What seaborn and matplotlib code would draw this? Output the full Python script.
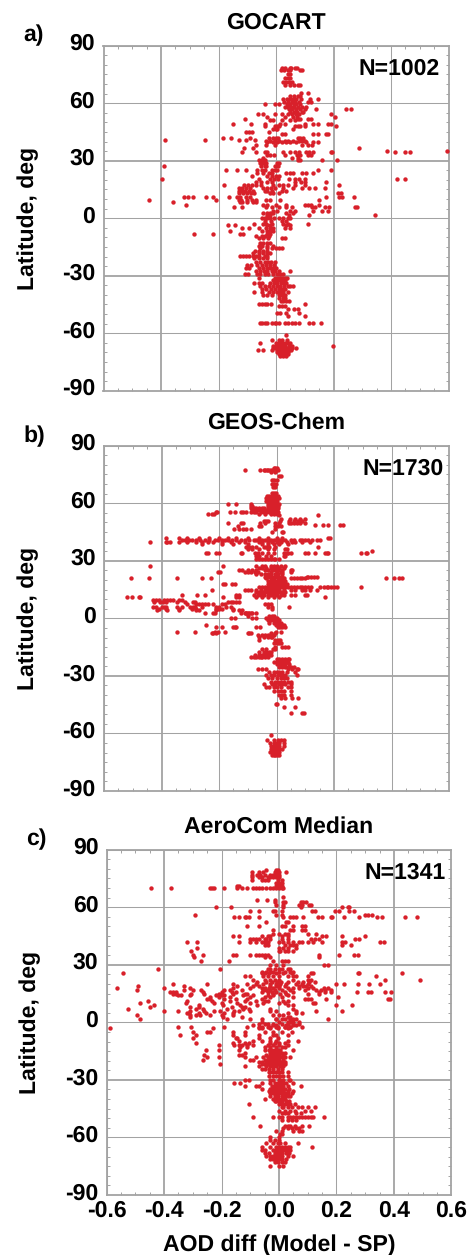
import pandas as pd
import matplotlib.pyplot as plt
import seaborn as sns
from matplotlib.ticker import MultipleLocator
from matplotlib.transforms import ScaledTranslation

# (latitude, AOD diffs at that latitude)
gocart_rows = [
    (78.5, [.02, .032, .048, .053, .066, .074]), (77.5, [.016, .027, .04, .05, .084, .09]),
    (75, [.04, .047]), (73, [.03, .04, .05]), (71, [.025, .034, .045, .055]), (69.5, [.033, .05, .064, .075, .082]),
    (65.5, [.088, .113]), (63.5, [.05, .062, .075, .083]), (62, [.025, .037, .05, .059, .07, .087, .117, .146]),
    (60.7, [.027, .043, .056, .067, .08, .12, .113]), (59.5, [-.04, -.005, .012, .037, .048, .062, .07, .085]),
    (58, [.03, .042, .053, .064, .076, .092, .103]), (57, [.044, .057, .07, .083, .1, .14, .245, .262]),
    (55.5, [.05, .062, .072, .09, .095]), (54.5, [-.062, -.045, -.005, .022, .04, .056, .07, .08, .19]),
    (53, [-.03, .03, .06, .072, .205]), (52, [-.107, .076, .085, .11, .12]), (51, [-.02, -.012, .02, .05, .066]),
    (49, [-.15, -.088, -.04, .015, .03, .1, .13, .145, .18, .19]), (48, [-.04, -.005, .004, .012, .065, .075, .085, .1, .21]),
    (46.5, [-.01, 0, .005, .06]), (45.2, [-.105, -.095, -.085, -.025]), (43.7, [.02, .03, .13, .147, .175, .18]),
    (41, [-.385, -.248, -.072, -.13, -.105]), (41.6, [-.185, -.158, -.09]),
    (42, [-.025, -.012, 0, .008, .075, .085, .095]), (40.5, [-.035, -.02, -.005, .012, .03, .042, .06, .08, .09, .1]),
    (39.5, [-.03, -.01, .005, .02, .035, .05, .07, .105, .13, .145]), (38, [-.07, -.035, -.005, .09, .11, .125]),
    (36.5, [-.11, -.08, .29]), (35.2, [.387, .596]), (34.5, [.413, .45, .467]),
    (34.3, [-.12, -.07, -.04, -.03, .025, .05, .065, .08, .105, .115, .13, .19, .195]),
    (33, [-.03, -.02, -.008, .03, .072, .082, .11, .12]), (31.5, [-.045, .055, .077]),
    (30.2, [-.06, -.048, -.04, .075, .082, .16, .213]), (28.7, [-.057, -.045, -.035, .005, .012]),
    (27, [-.39, -.052, -.04, -.034, -.005, .007]), (25.3, [-.175, -.135, -.105, -.065, -.05, -.038, -.015, -.004, .005, .145, .193]),
    (23.8, [-.067, -.045, -.025, -.013, .035, .05, .06, .09, .105, .13]),
    (22, [-.085, -.03, -.015, 0, .01]), (20.5, [-.395, -.06, -.02, -.008, .007, .045, .065, .08, .1, .42, .45]),
    (19, [-.07, -.053, -.03, -.015, .066, .088, .1, .173]),
    (17.4, [-.18, -.113, -.098, -.085, -.07, -.053, -.01, .012, .025, .04, .065, .1, .22]),
    (16, [-.13, -.12, -.105, -.09, -.045, -.032, -.018, -.005, .025, .06, .09, .115, .135, .17]),
    (14.4, [-.13, -.12, -.107, -.095, -.08, -.04, -.03, -.015, .02, .035]),
    (13, [-.128, -.115, -.1, -.088, -.075, -.02, -.01, .01, .215, .225]),
    (11, [-.32, -.306, -.29, -.245, -.22, -.165, -.135, -.125, -.105, -.09, .175, .22, .23, .27]),
    (9.7, [-.443, -.21, -.13, -.122, -.1, -.085, -.07, -.035, -.02, .015, .15]), (8.5, [-.358, -.125, -.118, -.1, -.08, -.07]),
    (7, [-.312, -.045, -.03, 0, .035, .1, .11, .12, .15]),
    (5.7, [-.145, -.12, -.035, -.015, .01, .036, .055, .125, .137, .17, .185, .274, .28]),
    (4, [-.01, .002, .05, .065, .13, .16, .18]), (2.5, [-.045, -.033, -.02, -.01, .035, .06]),
    (1.5, [-.03, -.02, .115, .345, .045]), (0, [-.05, -.04, -.03, -.02, -.008, .012, .025, .04, .05]),
    (-1.5, [-.037, -.018, .02, .035]), (-2.8, [-.075, -.045, -.035, -.015, .025, .04, .11]), (-3.7, [-.167, -.144, -.03, -.02, .035, .05]),
    (-5, [-.12, -.095, -.06, -.035, -.02, -.01, .03, .048]), (-6.5, [-.16, -.05, -.033, -.022, -.012]),
    (-8, [-.285, -.218, -.125, -.115, -.032, -.02]), (-9.5, [-.07, -.05, -.04, -.025]),
    (-10.5, [-.06, -.044, -.028, .02, .03]), (-13, [-.055, -.045, -.03, -.02]), (-14.5, [-.06, -.048, -.03, -.012]),
    (-15.7, [-.055, -.03, -.015, 0, .012, .02]), (-17, [-.072, -.058, -.045, -.03]), (-18, [-.08, -.06, -.045, -.032, -.02]),
    (-19.7, [-.125, -.115, -.105, -.095, -.08, -.07, -.06, -.04, -.03]), (-21, [-.075, -.058, -.045, -.032]),
    (-23, [-.07, -.055, -.04, -.028, -.017, -.005]), (-24.5, [-.1, -.088, -.065, -.05, -.035, -.02, -.008]),
    (-26, [-.105, -.095, -.06, -.045, -.033, -.02, -.01, 0]), (-27.5, [-.07, -.055, -.042, -.03, -.015, -.003, .012, .048]),
    (-29, [-.108, -.097, -.065, -.055, -.04, -.028, -.012, .002, .015, .025]),
    (-31, [-.06, -.003, .006, .013, .022, .03, .038]), (-32.5, [-.01, 0, .01, .02, .03]),
    (-34, [-.075, -.06, -.048, -.02, -.007, .005, .017, .027, .035]), (-35.2, [-.055, -.04, -.026, -.012, .003, .015, .028, .04, .05, .06]),
    (-37, [-.05, -.035, -.018, -.005, .01, .02, .033]), (-38.5, [-.077, -.047, -.025, -.01, .005, .015, .024, .04]),
    (-40, [-.045, -.03, -.015, .012, .022, .03]), (-41.5, [.012, .025, .03]), (-43, [.017, .026, .035, .045]),
    (-44.7, [-.06, -.05, -.04, -.03, -.018, .1]), (-46, [.01, .02, .03]), (-47.5, [.04, .062, .075]),
    (-49.5, [.005, .015, .035, .08]), (-51, [.04, .1]),
    (-54.5, [-.055, -.05, -.04, -.03, -.015, -.005, 0, .01, .03, .04, .055, .065, .08, .115, .13, .155]),
    (-61, [.035]), (-63.5, [-.015, .012, .022, .038]), (-65, [-.055, 0, .01, .02, .03, .04, .048]),
    (-66.5, [.198, -.01, 0, .011, .022, .033, .045, .055]), (-67.5, [-.012, 0, .01, .02, .03, .04, .055, .07]),
    (-69, [-.063, -.045, -.015, .005, .015, .025, .035, .045, .052]), (-70, [.005, .012, .02, .03, .04]),
    (-71, [.01, .02, .03, .04]), (-72, [.015, .025, .035]),
]

geos_rows = [
    (78.5, [-.01, -.005, .002]), (77.5, [-.11, -.057, -.045, -.04, -.034, -.028, -.022, -.016, -.01, -.003, .006]),
    (76.5, [-.018, -.005]), (74, [.01, .016]), (72, [-.015, -.008, 0]), (70, [-.016, -.01, -.003]), (68.5, [-.012, -.005]),
    (65.5, [-.015, -.008, -.002]), (64, [-.032, -.025, -.015, -.008, -.002, .006]),
    (62.5, [-.036, -.03, -.022, -.015, -.007, 0, .008]), (61, [-.035, -.028, -.02, -.012, -.005, .003]),
    (59.7, [-.167, -.14, -.09, -.03, -.018, -.01, 0, .008]), (58.5, [-.09, -.085, -.03, -.022, -.014, -.005, .005]),
    (57.4, [-.09, -.08, -.07, -.062, -.05, -.042, -.03, -.02, -.01, 0, .006]),
    (56.5, [-.085, -.075, -.068, -.058, -.05, -.04, -.03, -.02, -.01, 0]),
    (55.5, [-.21, -.207, -.163, -.146, -.125, -.118, -.105, -.09, -.08, -.07, -.055, -.045, -.035, -.025, -.015, -.005, .005]),
    (54.6, [-.24, -.225, -.218, -.06, -.04, -.02, -.008, .002]), (54, [.146, .01]),
    (52, [.048, .065, .082, .1, .015]), (50.5, [-.045, -.035, -.03, .013, .042, .06, .075, .088]),
    (49.6, [-.17, -.122, -.118, -.058, -.04, -.005, .007, .042, .05, .06, .07, .08, .1]),
    (48.7, [.135, .163, .18, .22, .23]), (48, [-.135, -.06, -.055, -.005, .005, .015]),
    (46.4, [-.148, -.132, -.115, -.105, -.09, -.005]), (45, [-.016, .018, .024]),
    (41.8, [-.385, -.34, -.31, -.27, -.235, -.2, -.17, -.14, -.1, -.06, -.03, 0, .02, .18, .187]),
    (41, [-.33, -.32, -.305, -.295, -.28, -.265, -.25, -.235, -.215, -.205, -.19, -.18, -.17, -.155, -.14, -.125, -.11, -.095, -.08, -.07, -.06, -.05, -.04, -.03, -.02, -.01, 0, .01, .02, .03, .05, .06, .08, .09, .1, .11, .125, .14, .15]),
    (40, [-.44, -.385, -.38, -.37, -.34, -.31, -.28, -.26, -.24, -.22, -.19, -.16, -.13, -.11, -.06, -.05, -.03, -.015, 0, .015, .035, .055, .065, .09, .115]),
    (38.8, [-.26, -.19, -.15, -.1, -.05, -.03, -.01, .01, .04]), (37, [-.105, -.095, -.085, -.07, -.045, -.035, -.025, -.005, .146]),
    (36, [-.1, -.085, -.06, -.03, -.01, .03, .035]),
    (34, [-.245, -.24, -.21, -.2, -.125, -.12, -.075, -.065, -.05, -.03, -.01, .025, .035, .04, .05, .1, .11, .135, .17, .175, .18, .295, .31, .315]),
    (35, [.332]), (32.5, [-.07, -.06, -.035, -.02, .025, .03]), (31, [-.07, -.06, -.05, -.04, -.03, -.02, -.01, -.005, .01]),
    (27.3, [-.44, -.187, -.07, -.05, -.04, -.02, -.01, 0, .015, .03]),
    (26, [-.06, -.05, -.035, -.02, -.01, 0, .01, .025]),
    (25, [-.13, -.12, -.1, -.085, -.07, -.04, -.03, -.015, -.005, .005, .02, .05, .055]),
    (24, [-.205, -.198, -.11, -.1, -.09, -.075, -.065, -.02, 0, .015, .02, .05]),
    (23, [-.07, -.055, -.04, -.03, -.02, -.005, .005, .02]), (21.8, [-.04, -.03, -.02, -.01, 0, .01, .02, .14, .105, .11, .12, .13]),
    (20.9, [-.507, -.442, -.347, -.26, -.228, -.035, -.02, -.01, .005, .015, .025, .05, .06, .07, .08, .09, .1, .38, .407, .425, .436]),
    (19.5, [-.03, -.02, -.01, 0, .01, .02, .03]), (18, [-.185, -.18, -.155, -.145, -.03, -.02, -.01, 0, .01, .02, .03, .035]),
    (16.5, [.295, -.06, -.05, -.04, -.03, -.02, -.01, 0, .01, .02, .03, .04, .05, .06, .07, .08, .09, .1, .11, .12, .15, .165, .175, .18, .19, .2, .21]),
    (15, [-.225, -.11, -.1, -.09, -.07, -.055, -.04, -.03, -.02, -.01, 0, .01, .025, .05, .065, .09, .1, .115, .14]),
    (13.5, [-.07, -.06, -.05, -.04, -.03, -.02, -.01, 0, .01, .02, .03]),
    (12, [-.33, -.277, -.248, -.14, -.13, -.08, -.065, -.055, -.045, -.03, -.02, -.01, 0, .015, .025, .05, .065, .1, .105]),
    (11, [-.52, -.503, -.48, -.475, -.185, -.14, -.13, -.07, -.05, -.03, -.01, .01, .17]),
    (9.6, [-.43, -.42, -.41, -.39, -.38, -.37, -.36, -.34, -.33]),
    (8.7, [-.425, -.405, -.395, -.385, -.345, -.32, -.29, -.285, -.17, -.16, -.15, -.14, -.13]),
    (7.5, [-.31, -.28, -.27, -.26, -.25, -.24, -.22, -.19, -.18, -.04, -.03, -.02]),
    (6, [-.43, -.42, -.4, -.39, -.385, -.345, -.33, -.3, -.29, -.285, -.26, -.21, -.2, -.175, -.16, -.03, -.015, .042]),
    (5, [-.41, -.385, -.34, -.295, -.28, -.21, -.2, -.19, -.15, -.015]), (4.4, [-.415, -.38, -.34, -.28, -.27, -.21, -.15, -.13, -.12]),
    (3, [-.11, -.105, -.095, -.085]), (2.6, [-.25, -.22, -.215, -.125, -.105, -.1, -.09, -.07]), (1, [-.025, -.015, -.01, -.1]),
    (0, [-.16, -.145, -.085, -.07, -.035, -.025, -.015, -.005, .002]), (-1, [-.03, -.02, -.01, 0, .005, .01]),
    (-2.5, [-.025, -.01, 0, .005, .015]), (-3.5, [-.245, -.003, .005, .012, .018, .025]), (-4.7, [-.212, -.19, -.15, -.145, -.14, -.07, -.058, .005, .012, .02, .028]),
    (-7, [-.347, -.283, -.215, -.205, -.18, -.002, .015]), (-7.8, [-.225, -.22, -.21, -.1, -.095, -.09, -.02, -.005]),
    (-8.5, [-.065, -.05, -.04, -.03, -.02, -.01]), (-9.5, [-.06, -.045, -.03, -.02, -.015]), (-11.5, [-.06, -.005, .005, .012]),
    (-13, [-.01, 0, .01, .015]), (-15, [-.005, .02, .03, .04]), (-16, [-.05, -.035, -.012, -.005]),
    (-17.5, [-.06, -.045, -.035, -.025, -.018]), (-19, [-.075, -.06, -.05, -.04, -.03, -.02]),
    (-20, [-.09, -.08, -.07, -.06, -.055, -.05, -.04, -.03]), (-21, [0, .01, .02, .03, .04, .045]),
    (-22.5, [-.01, 0, .01, .02, .03, .035, .04]), (-24, [0, .01, .02, .03, .045]), (-25.5, [.01, .02, .03, .04, .05, .06]),
    (-26.5, [-.065, -.05, -.035, .04, .055, .07, .075]), (-28, [-.025, -.01, 0, .01, .02, .035, .065]),
    (-29.5, [-.035, -.02, -.01, .005, .015, .02, .03, .07]), (-31, [-.03, -.015, 0, .015, .025, .035]),
    (-33, [-.02, -.005, .005, .015, .025, .04, .05]), (-34, [-.045, -.015, -.005, .01, .02, .03, .05]),
    (-36, [-.035, -.025, -.01, 0, .015, .04, .05]), (-38, [-.01, .005, .015, .025, .052]),
    (-40, [.01, .02, .025, .05]), (-41.5, [.015, .03, .055, .076]), (-44.5, [-.002, .003]), (-46, [.025, .065]),
    (-49.5, [.05, .088, .094]), (-61, [-.02]), (-63.5, [-.033, -.01, .005, .015, .025]),
    (-65, [-.022, -.01, -.005, 0, .01, .025]), (-66.5, [-.018, -.01, -.005, 0, .01, .025]),
    (-68, [-.02, -.015, -.01, -.005, 0, .01, .02]), (-69.5, [-.024, -.015, -.01, -.005, 0, .01]), (-71, [-.015, -.01, -.005, 0, .01]),
]

aero_rows = [
    (79.5, [-.045, -.01, -.005]), (78.5, [-.095, -.07, -.055, -.015, -.01, -.005, 0, .026]),
    (77, [-.095, -.075, -.065, -.05, -.03, -.02, -.01, 0]), (76, [-.095, -.07, -.06, -.04, -.03, -.02, -.01, 0]),
    (74, [-.095, -.06, -.05, -.04, -.005, .01]), (72.5, [-.01, 0, .01]), (71, [-.145, -.14, -.01, 0, .01]),
    (70, [-.447, -.375, -.24, -.235, -.225, -.19, -.145, -.13, -.11, -.09, -.08, -.07, -.06, -.045, -.03, -.02, -.01, 0, .01, .015]),
    (65.6, [.015]), (64, [-.077, -.042, -.013]), (62.5, [-.013, .015, .02, .075, .085, .095]), (61, [.07, .08, .105, .11, -.01, .015]),
    (60, [-.22, -.166, .015, .075, .22, .24, .245]), (58, [-.1, -.07, -.02, -.015, .01, .125, .115, .195, .21, .245, .26]),
    (56, [-.293, -.01, .01, .31, .325, .3]),
    (55, [-.155, -.14, -.12, -.115, -.105, -.07, .015, .04, .05, .06, .085, .135, .15, .18, .185, .225, .28, .34, .36, .44, .48]),
    (52.5, [-.045, .03, .025]), (50, [-.11, -.07, .02, .05, .08, .09, .01]), (48, [-.02, .08, .09, .04, .05]), (46, [.02, .03, -.02, 0, .1, .13]),
    (45, [-.16, -.14, -.06, -.04, -.03, .01, .03, .15, .165, .22, .3]),
    (43.5, [-.1, -.09, -.08, -.07, -.05, -.045, -.03, .01, .03, .11, .125, .14, .28, .265]),
    (42, [-.32, -.285, -.14, -.1, -.08, -.06, -.05, -.04, 0, .015, .03, .05, .07, .08, .1, .12, .15, .22, .23, .352, .365]),
    (40.5, [-.05, -.04, .02, .04, .05, .06, .22, .25]), (39, [-.285, 0, .015, .03, .06]), (37, [-.308, 0, .005, .02, .03, .05]),
    (35, [-.3, -.265, -.16, -.15, -.1, -.08, -.07, -.06, -.05, -.04, .14, .21, .26, .275]), (34, [-.295, -.05, -.03, .14]),
    (32, [-.27, -.173, -.02, .01, .02, .03]), (30, [.17, .155, -.01, .015, -.03]), (28, [-.204, -.42, -.04, -.03, -.015, 0, .01, .03, .04]),
    (26.5, [-.06, -.045, -.03, -.02, 0, .02, .04, .05]), (25.5, [-.543, -.06, -.05, -.035, -.01, .015, .045, .11, .12, .28, .275, .43]),
    (24, [-.1, -.12, -.055, -.04, -.02, 0, .03, .06, .05, .337, .1]), (22, [-.09, -.05, -.03, -.015, 0, .05, .1, .49, .37, .11]),
    (21, [-.075, -.045, -.025, -.008, .008, .03, .065, .085, .105, .125]),
    (20, [-.37, -.25, -.16, -.11, -.08, -.055, -.03, -.01, .005, .025, .06, .08, .1, .2, .225, .275, .315, .35]),
    (19, [-.49, -.33, -.145, -.09, -.07, -.03, -.01, 0, .02, .07, .085, .095, .11]),
    (18, [-.565, -.4, -.31, -.16, -.1, -.06, -.05, -.035, -.02, 0, .03, .05, .07, .1, .12, .155, .17]),
    (17, [-.495, -.33, -.3, -.27, -.19, -.17, -.13, -.055, -.045, -.03, -.015, .01, .04, .09, .13, .145, .16, .18]),
    (16, [-.38, -.37, -.36, -.265, -.2, -.165, -.15, -.06, -.04, -.025, -.01, .02, .05, .14, .16, .18, .27, .31, .32, .37, .39]),
    (15, [-.37, -.36, -.305, -.26, -.21, -.16, -.12, -.11, -.02, .005, .025, .14, .1]),
    (14, [-.35, -.34, -.31, -.22, -.2, -.19, -.125, -.09, -.04, -.02, .03]), (13, [-.24, -.21, -.17, -.1, -.05, -.03, .01, .05, .205]),
    (12, [-.25, -.24, -.19, -.15, -.11, -.06, .09, .1, .11, .165, .38, .385]), (11, [-.455, -.32, -.235, -.17, -.12, -.08, -.05, -.04, .03, .015]),
    (10, [-.485, -.325, -.225, -.2, -.145, -.1, -.055, 0, .02, .125, .12]), (9, [-.435, -.28, -.195, -.135, -.075, .03, .05, .2, .255]),
    (8, [-.45, -.31, -.28, -.165, -.13, -.12]), (7, [-.525, -.29, -.265, -.18, -.125, -.105, -.03, .05]),
    (6, [-.4, -.35, -.31, -.26, -.225, -.205, -.155, -.14, -.1, -.03, -.01, .13, .22, .06]), (5, [-.32, -.315, -.28, -.255, -.19, -.16, .06, .08, .03]),
    (4, [-.495, -.31, -.29, -.275, -.24, -.2, -.16, -.02, 0, .015]), (3, [-.31, -.195, -.13, .03, .04]),
    (2, [-.485, -.18, -.1, -.01, .01, .17, .04]), (1.5, [-.01, .02, .05, .06, -.06]), (0, [-.06, 0, .03, .05, .07, .04]),
    (-1.5, [-.09, -.02, -.01, .025, .05, .06]), (-2.5, [-.305, -.11, -.06, -.03, -.005, .02, .04, .08]),
    (-1, [-.07, -.05, -.04, -.02, .01, .03, .05, .07]), (-2.2, [-.35, -.19, -.07, -.04, -.01, .02, .04]),
    (-3.2, [-.59, -.23, -.07, -.06, -.03, -.005, .03]), (-5, [-.3, -.25, -.24, -.16, -.12, -.05, -.02, .01, .045]),
    (-6.5, [-.345, -.29, -.16, -.12, -.07, -.02, -.01, .03]), (-8, [-.3, -.15, -.145, -.07, -.03, -.005]),
    (-9.5, [-.14, -.09, -.06, -.03, -.01, .03, .065]), (-11, [-.29, -.16, -.12, -.105, -.03, -.015, 0, .02]),
    (-12, [-.21, -.155, -.14, -.13, -.11, -.09, -.04, -.02, 0, .03]), (-13, [-.135, -.11, -.05, -.03, -.01, .01, .02]),
    (-14.3, [-.255, -.21, -.14, -.05, -.035, -.025, -.015, -.005, .005, .05]), (-16, [-.12, -.03, -.02, -.01, 0, .01, .02]),
    (-17, [-.26, -.13, -.14, -.045, -.03, -.02, -.01, 0, .015]), (-18, [-.25, -.21, -.12, -.08, -.055, -.04, -.03, -.02, -.01, 0, .01, .02, .04]),
    (-19.5, [-.265, -.1, -.09, -.05, -.04, -.03, -.02, -.01, 0, .015]), (-20.5, [-.07, -.06, -.045, -.035, -.03, -.02, -.01, 0, .01, .02]),
    (-21.5, [-.205, -.06, -.05, -.04, -.03, -.02, -.01, 0, .01, .02]), (-23, [-.12, -.07, -.045, -.03, -.02, -.01, .005, .015]),
    (-24.5, [-.06, -.05, -.035, -.02, -.005, .01]), (-26, [-.035, -.03, -.02, -.01, 0, .01, .03]),
    (-28, [-.035, -.02, -.01, 0, .005, .015, .03]), (-30, [-.105, -.12, -.03, -.02, 0, .005, .015, .04, .035]),
    (-31.5, [-.155, -.135, -.06, -.03, -.015, -.005, .005, .015, .025, .05]), (-33, [-.12, -.08, -.07, -.025, -.015, -.005, .005, .015, .03, .075]),
    (-34.5, [-.06, -.03, -.02, -.01, 0, .01, .02, .035]), (-36, [-.035, -.025, -.015, -.005, .005, .015, .03, .05]),
    (-37, [-.03, -.02, -.01, 0, .01, .02, .03, .045]), (-38.5, [-.03, -.015, -.005, .01, .02, .03, .04]),
    (-40, [-.05, -.02, -.01, 0, .01, .02]), (-41, [-.015, -.01, 0, .01, .025, .035]), (-42.5, [-.105, 0, .01, .02, .03, .04, .055]),
    (-44, [.01, .015, .03, .045, .065, .08, .1, .125]), (-46, [0, .02, .04, .055, .09, .11]), (-47.5, [.01, .02, .03, .06, .075]),
    (-49.5, [-.09, -.02, 0, .01, .03, .04, .05, .06, .07, .08, .09, .1, .11, .12, .155]), (-51, [.01, .03, .045, .06]),
    (-54, [-.065, .02, .03, .04, .055, .08, .105]), (-55, [.015, .03, .045, .06, .07]), (-56.5, [-.01, .01, .05, .07, .08]), (-58, [.005, .01]),
    (-60, [-.03, 0]), (-61.5, [-.03, -.015, 0]), (-63, [-.045, -.02, -.005, .005, .02, .065]), (-65, [-.06, -.03, -.01, 0, .01, .02, .03, .04, .115]),
    (-66.5, [-.06, -.05, -.02, -.01, 0, .01, .02, .03, .04]), (-68, [-.05, -.035, -.015, -.005, 0, .01, .025, .035]),
    (-69.5, [-.045, -.03, -.02, -.01, 0, .01, .03, .05]), (-71, [-.03, -.02, -.01, 0, .01, .025]),
    (-73, [-.015, -.005, .01, .02]), (-75, [-.03, 0, .015]),
]

titles = ['GOCART', 'GEOS-Chem', 'AeroCom Median']
letters = ['a)', 'b)', 'c)']
counts = ['N=1002', 'N=1730', 'N=1341']
lat_ticks = [-90, -60, -30, 0, 30, 60, 90]
diff_ticks = [-0.6, -0.4, -0.2, 0.0, 0.2, 0.4, 0.6]

W, H = 472, 1255
GREY = '#a3a3a3'
RED = '#d8202a'

sns.set_theme(style='ticks')
plt.rcParams['font.family'] = ['Liberation Sans', 'DejaVu Sans']
plt.rcParams['font.weight'] = 'bold'
plt.rcParams['font.size'] = 16.6
plt.rcParams['axes.unicode_minus'] = False
plt.rcParams['text.hinting'] = 'no_hinting'
plt.rcParams['text.hinting_factor'] = 1


def make_df(rows):
    pts = [(x, la) for la, xs in rows for x in xs]
    return pd.DataFrame(pts, columns=['diff', 'lat'])


# left, top, right, bottom in pixels, then text positions for each panel
boxes = [(103.5, 45.7, 448.5, 390.7), (104, 445.7, 449, 791), (106.7, 849.7, 451.3, 1195)]
title_pos = [(276, 29), (276, 429), (279, 833)]
letter_pos = [(23, 41), (23, 442), (26, 845)]
count_pos = [(440, 75), (444, 475), (446, 879)]
ylab_pos = [(28, 218), (28, 618), (30, 1022)]
thick_x = [[-0.4, 0.2], [-0.4, 0.2], [-0.4, 0.0, 0.4]]

fig = plt.figure(figsize=(W / 100, H / 100), dpi=100, facecolor='white')
up = ScaledTranslation(0, 4 / 100, fig.dpi_scale_trans)

for i, rows in enumerate([gocart_rows, geos_rows, aero_rows]):
    l, t, r, b = boxes[i]
    ax = fig.add_axes([l / W, 1 - b / H, (r - l) / W, (b - t) / H])
    df = make_df(rows)
    print(titles[i], len(df))
    sns.scatterplot(data=df, x='diff', y='lat', color=RED, s=10, linewidth=0, ax=ax, zorder=3, clip_on=False)
    ax.set_xlim(-0.6, 0.6)
    ax.set_ylim(-90, 90)
    ax.set_xticks(diff_ticks)
    ax.set_yticks(lat_ticks)
    ax.xaxis.set_minor_locator(MultipleLocator(0.05))
    ax.yaxis.set_minor_locator(MultipleLocator(5))
    ax.grid(True, which='major', color=GREY, linewidth=0.75)
    for v, gl in zip(diff_ticks, ax.get_xgridlines()):
        gl.set_linewidth(1.3 if v in thick_x[i] else 0.75)
    for v, gl in zip(lat_ticks, ax.get_ygridlines()):
        gl.set_linewidth(1.3 if abs(v) == 30 else 0.75)
    ax.tick_params(which='major', direction='in', length=0, top=True, right=True, pad=6, labelsize=16.4, labelcolor='black')
    ax.tick_params(which='minor', direction='in', length=2, width=0.7, color=GREY, top=True, right=True)
    for s in ax.spines.values():
        s.set_color(GREY)
        s.set_linewidth(1.3)
    ax.set_xlabel('')
    ax.set_ylabel('')
    for lab in ax.get_yticklabels():
        lab.set_transform(lab.get_transform() + up)
    if i < 2:
        ax.set_xticklabels([])
    else:
        ax.set_xticklabels(['%.1f' % v for v in diff_ticks])
        ax.tick_params(axis='x', which='major', pad=4)

    fig.text(title_pos[i][0] / W, 1 - title_pos[i][1] / H, titles[i], ha='center', va='baseline', color='black')
    fig.text(letter_pos[i][0] / W, 1 - letter_pos[i][1] / H, letters[i], ha='left', va='baseline', color='black')
    fig.text(count_pos[i][0] / W, 1 - count_pos[i][1] / H, counts[i], ha='right', va='baseline', color='black')
    fig.text(ylab_pos[i][0] / W, 1 - ylab_pos[i][1] / H, 'Latitude, deg', rotation=90, ha='center', va='center', color='black')

fig.text(279 / W, 1 - 1251 / H, 'AOD diff (Model - SP)', ha='center', va='baseline', color='black')

fig.savefig('out.png', dpi=100)
